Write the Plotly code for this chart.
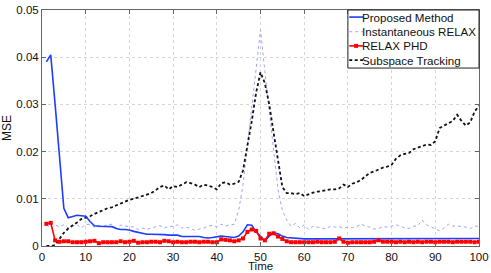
import plotly.graph_objects as go

time = list(range(1, 101))

proposed = [0.039, 0.0405, 0.030, 0.0195, 0.008, 0.006, 0.0062, 0.0065, 0.0064, 0.0063,
            0.0052, 0.0043, 0.0042, 0.0042, 0.0042, 0.0041, 0.0037, 0.0035, 0.0035, 0.0034,
            0.0031, 0.0029, 0.0026, 0.0025, 0.0025, 0.0025, 0.0024, 0.0024, 0.0023, 0.0023,
            0.0023, 0.0020, 0.0020, 0.0021, 0.0021, 0.0020, 0.0018, 0.0017, 0.0018, 0.0019,
            0.0021, 0.0020, 0.0019, 0.0018, 0.0021, 0.0030, 0.0045, 0.0044, 0.0030, 0.0021,
            0.0011, 0.0021, 0.0028, 0.0026, 0.0021, 0.0018, 0.0017, 0.0017, 0.0016, 0.0015,
            0.0015, 0.0015, 0.0015, 0.0016, 0.0015, 0.0015, 0.0015, 0.0015, 0.0015, 0.0015,
            0.0015, 0.0015, 0.0015, 0.0015, 0.0015, 0.0015, 0.0015, 0.0016, 0.0015, 0.0015,
            0.0015, 0.0015, 0.0015, 0.0015, 0.0015, 0.0015, 0.0015, 0.0015, 0.0015, 0.0015,
            0.0015, 0.0015, 0.0015, 0.0015, 0.0015, 0.0015, 0.0015, 0.0015, 0.0016, 0.0016]

inst_relax = [0.0045, 0.0038, 0.0045, 0.0040, 0.0045, 0.0038, 0.0042, 0.0045, 0.0038, 0.0046,
              0.0045, 0.0040, 0.0044, 0.0042, 0.0045, 0.0046, 0.0038, 0.0044, 0.0043, 0.0040,
              0.0041, 0.0035, 0.0038, 0.0035, 0.0038, 0.0040, 0.0043, 0.0038, 0.0042, 0.0041,
              0.0045, 0.0038, 0.0040, 0.0037, 0.0033, 0.0036, 0.0038, 0.0042, 0.0044, 0.0041,
              0.0046, 0.0042, 0.0045, 0.0046, 0.0075, 0.0130, 0.0210, 0.0290, 0.0370, 0.0458,
              0.0370, 0.0290, 0.0200, 0.0120, 0.0075, 0.0055, 0.0042, 0.0048, 0.0038, 0.0045,
              0.0035, 0.0042, 0.0040, 0.0038, 0.0036, 0.0042, 0.0040, 0.0041, 0.0038, 0.0040,
              0.0039, 0.0041, 0.0047, 0.0042, 0.0040, 0.0036, 0.0037, 0.0041, 0.0040, 0.0042,
              0.0045, 0.0042, 0.0038, 0.0037, 0.0042, 0.0043, 0.0055, 0.0045, 0.0041, 0.0036,
              0.0032, 0.0038, 0.0046, 0.0042, 0.0043, 0.0041, 0.0040, 0.0037, 0.0042, 0.0042]

relax_phd = [0.0047, 0.0049, 0.0012, 0.0009, 0.0010, 0.0010, 0.0008, 0.0008, 0.0008, 0.0009,
             0.0010, 0.0011, 0.0006, 0.0008, 0.0008, 0.0008, 0.0008, 0.0010, 0.0008, 0.0009,
             0.0011, 0.0007, 0.0008, 0.0008, 0.0009, 0.0009, 0.0008, 0.0011, 0.0010, 0.0008,
             0.0009, 0.0008, 0.0008, 0.0009, 0.0009, 0.0008, 0.0009, 0.0009, 0.0008, 0.0008,
             0.0014, 0.0013, 0.0012, 0.0010, 0.0012, 0.0016, 0.0030, 0.0035, 0.0032, 0.0016,
             0.0012, 0.0026, 0.0027, 0.0020, 0.0015, 0.0010, 0.0008, 0.0008, 0.0008, 0.0008,
             0.0008, 0.0008, 0.0009, 0.0008, 0.0008, 0.0008, 0.0009, 0.0016, 0.0009, 0.0007,
             0.0008, 0.0008, 0.0008, 0.0008, 0.0008, 0.0009, 0.0012, 0.0009, 0.0009, 0.0009,
             0.0008, 0.0009, 0.0008, 0.0009, 0.0008, 0.0009, 0.0008, 0.0009, 0.0009, 0.0008,
             0.0009, 0.0009, 0.0009, 0.0008, 0.0009, 0.0009, 0.0009, 0.0009, 0.0008, 0.0009]

subspace = [0.0000, 0.0000, 0.0002, 0.0015, 0.0028, 0.0037, 0.0043, 0.0050, 0.0057, 0.0060,
            0.0063, 0.0068, 0.0072, 0.0075, 0.0080, 0.0082, 0.0086, 0.0090, 0.0095, 0.0098,
            0.0100, 0.0103, 0.0107, 0.0110, 0.0112, 0.0118, 0.0125, 0.0128, 0.0120, 0.0127,
            0.0125, 0.0130, 0.0135, 0.0133, 0.0130, 0.0125, 0.0130, 0.0128, 0.0125, 0.0120,
            0.0133, 0.0135, 0.0130, 0.0132, 0.0136, 0.0160, 0.0210, 0.0265, 0.0325, 0.0368,
            0.0345, 0.0300, 0.0240, 0.0180, 0.0125, 0.0112, 0.0112, 0.0110, 0.0112, 0.0106,
            0.0110, 0.0113, 0.0115, 0.0117, 0.0118, 0.0120, 0.0120, 0.0122, 0.0130, 0.0125,
            0.0132, 0.0135, 0.0140, 0.0148, 0.0155, 0.0158, 0.0162, 0.0166, 0.0168, 0.0172,
            0.0185, 0.0192, 0.0195, 0.0197, 0.0205, 0.0208, 0.0212, 0.0215, 0.0214, 0.0222,
            0.0250, 0.0255, 0.0260, 0.0265, 0.0278, 0.0265, 0.0255, 0.0262, 0.0285, 0.0297]

x_ticks = [0, 10, 20, 30, 40, 50, 60, 70, 80, 90, 100]
y_ticks = [0, 0.01, 0.02, 0.03, 0.04, 0.05]
y_tick_labels = ["0", "0.01", "0.02", "0.03", "0.04", "0.05"]

legend_names = ["Proposed Method", "Instantaneous RELAX", "RELAX PHD", "Subspace Tracking"]

FONT = "Liberation Sans, Arial, sans-serif"
C_PROP = "#1f3dff"
C_INST = "#9aa6ff"
C_PHD = "#ff0000"
C_SUB = "#111111"
SUB_DASH = "3px,2.5px"

fig = go.Figure()
fig.add_trace(go.Scatter(x=time, y=inst_relax, mode="lines", name=legend_names[1],
                         line=dict(color=C_INST, width=1, dash="dot")))
fig.add_trace(go.Scatter(x=time, y=subspace, mode="lines", name=legend_names[3],
                         line=dict(color=C_SUB, width=1.8, dash=SUB_DASH)))
fig.add_trace(go.Scatter(x=time, y=proposed, mode="lines", name=legend_names[0],
                         line=dict(color=C_PROP, width=1.6)))
fig.add_trace(go.Scatter(x=time, y=relax_phd, mode="lines+markers", name=legend_names[2],
                         line=dict(color=C_PHD, width=1.6),
                         marker=dict(color=C_PHD, size=4, symbol="square")))

# Legend drawn as a compact boxed key (MATLAB style)
shapes = []
annotations = []
lx0, lx1 = 0.700, 1.0
ly0, ly1 = 0.754, 1.0
shapes.append(dict(type="rect", xref="paper", yref="paper", x0=lx0, x1=lx1, y0=ly0, y1=ly1,
                   line=dict(color="#222222", width=1), fillcolor="white", layer="above"))
rows = [0.970, 0.908, 0.848, 0.788]
styles = [dict(color=C_PROP, width=1.6), dict(color=C_INST, width=1, dash="dot"),
          dict(color=C_PHD, width=1.6), dict(color=C_SUB, width=1.8, dash=SUB_DASH)]
sx0, sx1 = 0.7030, 0.7346
for name, yy, st in zip(legend_names, rows, styles):
    shapes.append(dict(type="line", xref="paper", yref="paper", x0=sx0, x1=sx1, y0=yy, y1=yy,
                       line=st, layer="above"))
    annotations.append(dict(text=name, xref="paper", yref="paper", x=0.7285, y=yy,
                            xanchor="left", yanchor="middle", showarrow=False,
                            font=dict(family=FONT, size=11.6, color="#111111")))
# marker sample for RELAX PHD
mx = (sx0 + sx1) / 2
shapes.append(dict(type="rect", xref="paper", yref="paper", x0=mx - 0.0045, x1=mx + 0.0045,
                   y0=rows[2] - 0.0085, y1=rows[2] + 0.0085, line=dict(width=0),
                   fillcolor=C_PHD, layer="above"))

# x-axis title placed as text under the tick labels
annotations.append(dict(text="Time", xref="paper", yref="bottom" if False else "paper",
                        x=0.5, y=-0.086, xanchor="center", yanchor="middle", showarrow=False,
                        borderpad=0,
                        font=dict(family=FONT, size=11.5, color="#111111")))

axis_common = dict(showline=True, linecolor="#666666", linewidth=1, mirror="ticks",
                   ticks="inside", ticklen=4, tickcolor="#666666",
                   showgrid=True, gridcolor="#d6d6d6", griddash="dot", gridwidth=1,
                   zeroline=False, automargin=False,
                   tickfont=dict(family=FONT, size=11.5, color="#111111"))

fig.update_layout(
    width=491, height=273,
    margin=dict(l=42, r=12, t=10, b=27, autoexpand=False),
    paper_bgcolor="white", plot_bgcolor="white",
    showlegend=False,
    shapes=shapes, annotations=annotations,
    xaxis=dict(range=[0, 100], tickvals=x_ticks, ticklabelstandoff=0, **axis_common),
    yaxis=dict(range=[0, 0.05], tickvals=y_ticks, ticktext=y_tick_labels,
               title=dict(text="MSE", font=dict(family=FONT, size=12, color="#111111"), standoff=6),
               **axis_common),
)

fig.write_html("out.html",
               config={"displayModeBar": False, "staticPlot": True},
               post_script="document.body.style.margin='0';document.body.style.padding='0';"
                           "document.body.style.overflow='hidden';")
